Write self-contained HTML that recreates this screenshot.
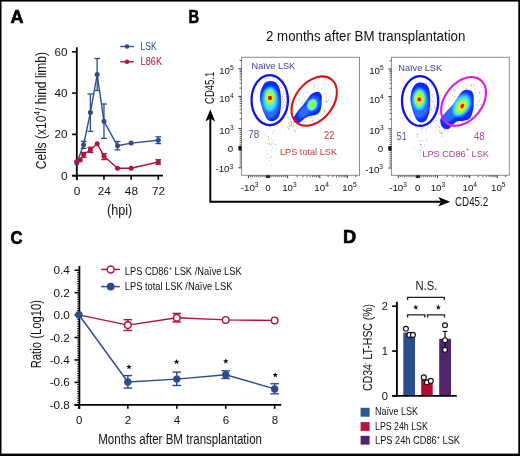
<!DOCTYPE html>
<html><head><meta charset="utf-8"><style>
html,body{margin:0;padding:0;background:#fff;}
svg{display:block;font-family:"Liberation Sans", sans-serif;will-change:transform;}
</style></head><body>
<svg width="520" height="456" viewBox="0 0 520 456">
<rect x="0" y="0" width="520" height="456" fill="#000"/>
<rect x="1.5" y="1.6" width="516.8" height="452.0" fill="#fff"/>
<text x="10.60" y="23.20" font-size="17.5" fill="#000" font-weight="bold" textLength="13.00" lengthAdjust="spacingAndGlyphs" stroke="#000" stroke-width="0.6">A</text>
<line x1="76.80" y1="47.30" x2="76.80" y2="180.20" stroke="#000" stroke-width="1.8" />
<line x1="72.10" y1="175.70" x2="163.00" y2="175.70" stroke="#000" stroke-width="1.8" />
<line x1="72.10" y1="175.70" x2="76.80" y2="175.70" stroke="#000" stroke-width="1.6" />
<text x="67.60" y="179.60" font-size="11" fill="#111" text-anchor="end" textLength="6.60" lengthAdjust="spacingAndGlyphs" >0</text>
<line x1="72.10" y1="134.40" x2="76.80" y2="134.40" stroke="#000" stroke-width="1.6" />
<text x="67.60" y="138.30" font-size="11" fill="#111" text-anchor="end" textLength="13.00" lengthAdjust="spacingAndGlyphs" >20</text>
<line x1="72.10" y1="93.10" x2="76.80" y2="93.10" stroke="#000" stroke-width="1.6" />
<text x="67.60" y="97.00" font-size="11" fill="#111" text-anchor="end" textLength="13.00" lengthAdjust="spacingAndGlyphs" >40</text>
<line x1="72.10" y1="51.80" x2="76.80" y2="51.80" stroke="#000" stroke-width="1.6" />
<text x="67.60" y="55.70" font-size="11" fill="#111" text-anchor="end" textLength="13.00" lengthAdjust="spacingAndGlyphs" >60</text>
<line x1="76.80" y1="175.70" x2="76.80" y2="179.80" stroke="#000" stroke-width="1.6" />
<text x="77.10" y="194.90" font-size="11" fill="#111" text-anchor="middle" textLength="6.60" lengthAdjust="spacingAndGlyphs" >0</text>
<line x1="103.97" y1="175.70" x2="103.97" y2="179.80" stroke="#000" stroke-width="1.6" />
<text x="104.27" y="194.90" font-size="11" fill="#111" text-anchor="middle" textLength="13.10" lengthAdjust="spacingAndGlyphs" >24</text>
<line x1="131.13" y1="175.70" x2="131.13" y2="179.80" stroke="#000" stroke-width="1.6" />
<text x="131.43" y="194.90" font-size="11" fill="#111" text-anchor="middle" textLength="13.10" lengthAdjust="spacingAndGlyphs" >48</text>
<line x1="158.30" y1="175.70" x2="158.30" y2="179.80" stroke="#000" stroke-width="1.6" />
<text x="158.60" y="194.90" font-size="11" fill="#111" text-anchor="middle" textLength="13.10" lengthAdjust="spacingAndGlyphs" >72</text>
<text x="107.00" y="214.70" font-size="14.2" fill="#111" textLength="25.30" lengthAdjust="spacingAndGlyphs" >(hpi)</text>
<text x="45.6" y="169.2" font-size="14.2" fill="#111" transform="rotate(-90 45.6 169.2)" textLength="117.3" lengthAdjust="spacingAndGlyphs">Cells (x10<tspan font-size="9.5" dy="-5.6">4</tspan><tspan dy="5.6">/ hind limb)</tspan></text>
<path d="M76.80 163.00 L83.59 144.80 L90.38 112.60 L97.17 74.50 L103.97 121.30 L117.55 145.80 L131.13 143.10 L158.30 140.20" fill="none" stroke="#2c4c8c" stroke-width="1.4" stroke-linejoin="round"/>
<line x1="83.59" y1="141.30" x2="83.59" y2="148.40" stroke="#2c4c8c" stroke-width="1.3" />
<line x1="80.69" y1="141.30" x2="86.49" y2="141.30" stroke="#2c4c8c" stroke-width="1.3" />
<line x1="80.69" y1="148.40" x2="86.49" y2="148.40" stroke="#2c4c8c" stroke-width="1.3" />
<line x1="90.38" y1="94.00" x2="90.38" y2="131.40" stroke="#2c4c8c" stroke-width="1.3" />
<line x1="87.48" y1="94.00" x2="93.28" y2="94.00" stroke="#2c4c8c" stroke-width="1.3" />
<line x1="87.48" y1="131.40" x2="93.28" y2="131.40" stroke="#2c4c8c" stroke-width="1.3" />
<line x1="97.17" y1="58.50" x2="97.17" y2="90.50" stroke="#2c4c8c" stroke-width="1.3" />
<line x1="94.27" y1="58.50" x2="100.08" y2="58.50" stroke="#2c4c8c" stroke-width="1.3" />
<line x1="94.27" y1="90.50" x2="100.08" y2="90.50" stroke="#2c4c8c" stroke-width="1.3" />
<line x1="103.97" y1="104.00" x2="103.97" y2="138.40" stroke="#2c4c8c" stroke-width="1.3" />
<line x1="101.07" y1="104.00" x2="106.87" y2="104.00" stroke="#2c4c8c" stroke-width="1.3" />
<line x1="101.07" y1="138.40" x2="106.87" y2="138.40" stroke="#2c4c8c" stroke-width="1.3" />
<line x1="117.55" y1="141.50" x2="117.55" y2="149.90" stroke="#2c4c8c" stroke-width="1.3" />
<line x1="114.65" y1="141.50" x2="120.45" y2="141.50" stroke="#2c4c8c" stroke-width="1.3" />
<line x1="114.65" y1="149.90" x2="120.45" y2="149.90" stroke="#2c4c8c" stroke-width="1.3" />
<line x1="158.30" y1="136.80" x2="158.30" y2="143.60" stroke="#2c4c8c" stroke-width="1.3" />
<line x1="155.40" y1="136.80" x2="161.20" y2="136.80" stroke="#2c4c8c" stroke-width="1.3" />
<line x1="155.40" y1="143.60" x2="161.20" y2="143.60" stroke="#2c4c8c" stroke-width="1.3" />
<circle cx="76.80" cy="163.00" r="2.5" fill="#2c4c8c"/>
<circle cx="83.59" cy="144.80" r="2.5" fill="#2c4c8c"/>
<circle cx="90.38" cy="112.60" r="2.5" fill="#2c4c8c"/>
<circle cx="97.17" cy="74.50" r="2.5" fill="#2c4c8c"/>
<circle cx="103.97" cy="121.30" r="2.5" fill="#2c4c8c"/>
<circle cx="117.55" cy="145.80" r="2.5" fill="#2c4c8c"/>
<circle cx="131.13" cy="143.10" r="2.5" fill="#2c4c8c"/>
<circle cx="158.30" cy="140.20" r="2.5" fill="#2c4c8c"/>
<path d="M76.80 161.50 L80.20 159.90 L83.59 154.50 L90.38 149.80 L97.17 143.70 L103.97 156.20 L117.55 168.20 L131.13 168.20 L158.30 162.00" fill="none" stroke="#b3123c" stroke-width="1.4" stroke-linejoin="round"/>
<line x1="83.59" y1="152.50" x2="83.59" y2="157.40" stroke="#b3123c" stroke-width="1.3" />
<line x1="80.69" y1="152.50" x2="86.49" y2="152.50" stroke="#b3123c" stroke-width="1.3" />
<line x1="80.69" y1="157.40" x2="86.49" y2="157.40" stroke="#b3123c" stroke-width="1.3" />
<line x1="90.38" y1="147.20" x2="90.38" y2="152.50" stroke="#b3123c" stroke-width="1.3" />
<line x1="87.48" y1="147.20" x2="93.28" y2="147.20" stroke="#b3123c" stroke-width="1.3" />
<line x1="87.48" y1="152.50" x2="93.28" y2="152.50" stroke="#b3123c" stroke-width="1.3" />
<line x1="103.97" y1="153.60" x2="103.97" y2="159.60" stroke="#b3123c" stroke-width="1.3" />
<line x1="101.07" y1="153.60" x2="106.87" y2="153.60" stroke="#b3123c" stroke-width="1.3" />
<line x1="101.07" y1="159.60" x2="106.87" y2="159.60" stroke="#b3123c" stroke-width="1.3" />
<line x1="158.30" y1="159.70" x2="158.30" y2="164.20" stroke="#b3123c" stroke-width="1.3" />
<line x1="155.40" y1="159.70" x2="161.20" y2="159.70" stroke="#b3123c" stroke-width="1.3" />
<line x1="155.40" y1="164.20" x2="161.20" y2="164.20" stroke="#b3123c" stroke-width="1.3" />
<circle cx="76.80" cy="161.50" r="2.5" fill="#b3123c"/>
<circle cx="80.20" cy="159.90" r="2.5" fill="#b3123c"/>
<circle cx="83.59" cy="154.50" r="2.5" fill="#b3123c"/>
<circle cx="90.38" cy="149.80" r="2.5" fill="#b3123c"/>
<circle cx="97.17" cy="143.70" r="2.5" fill="#b3123c"/>
<circle cx="103.97" cy="156.20" r="2.5" fill="#b3123c"/>
<circle cx="117.55" cy="168.20" r="2.5" fill="#b3123c"/>
<circle cx="131.13" cy="168.20" r="2.5" fill="#b3123c"/>
<circle cx="158.30" cy="162.00" r="2.5" fill="#b3123c"/>
<line x1="120.20" y1="46.50" x2="133.70" y2="46.50" stroke="#2c4c8c" stroke-width="1.4" />
<circle cx="127" cy="46.5" r="2.25" fill="#2c4c8c"/>
<line x1="120.20" y1="61.80" x2="133.70" y2="61.80" stroke="#b3123c" stroke-width="1.4" />
<circle cx="127" cy="61.8" r="2.25" fill="#b3123c"/>
<text x="140.60" y="49.80" font-size="10" fill="#2c4c8c" textLength="16.20" lengthAdjust="spacingAndGlyphs" >LSK</text>
<text x="140.60" y="64.80" font-size="10" fill="#b3123c" textLength="21.40" lengthAdjust="spacingAndGlyphs" >L86K</text>
<text x="188.60" y="23.20" font-size="17.5" fill="#000" font-weight="bold" textLength="10.60" lengthAdjust="spacingAndGlyphs" stroke="#000" stroke-width="0.6">B</text>
<text x="266.00" y="40.70" font-size="13.8" fill="#111" textLength="199.40" lengthAdjust="spacingAndGlyphs" >2 months after BM transplantation</text>
<rect x="241.50" y="57.30" width="118.00" height="118.00" fill="none" stroke="#8c8c8c" stroke-width="1"/>
<line x1="269.96" y1="175.30" x2="269.96" y2="177.20" stroke="#333" stroke-width="0.8" />
<line x1="241.50" y1="146.24" x2="239.60" y2="146.24" stroke="#333" stroke-width="0.8" />
<line x1="266.04" y1="175.30" x2="266.04" y2="177.20" stroke="#333" stroke-width="0.8" />
<line x1="241.50" y1="150.16" x2="239.60" y2="150.16" stroke="#333" stroke-width="0.8" />
<line x1="271.92" y1="175.30" x2="271.92" y2="177.20" stroke="#333" stroke-width="0.8" />
<line x1="241.50" y1="144.28" x2="239.60" y2="144.28" stroke="#333" stroke-width="0.8" />
<line x1="264.08" y1="175.30" x2="264.08" y2="177.20" stroke="#333" stroke-width="0.8" />
<line x1="241.50" y1="152.12" x2="239.60" y2="152.12" stroke="#333" stroke-width="0.8" />
<line x1="273.88" y1="175.30" x2="273.88" y2="177.20" stroke="#333" stroke-width="0.8" />
<line x1="241.50" y1="142.32" x2="239.60" y2="142.32" stroke="#333" stroke-width="0.8" />
<line x1="262.12" y1="175.30" x2="262.12" y2="177.20" stroke="#333" stroke-width="0.8" />
<line x1="241.50" y1="154.08" x2="239.60" y2="154.08" stroke="#333" stroke-width="0.8" />
<line x1="275.84" y1="175.30" x2="275.84" y2="177.20" stroke="#333" stroke-width="0.8" />
<line x1="241.50" y1="140.36" x2="239.60" y2="140.36" stroke="#333" stroke-width="0.8" />
<line x1="260.16" y1="175.30" x2="260.16" y2="177.20" stroke="#333" stroke-width="0.8" />
<line x1="241.50" y1="156.04" x2="239.60" y2="156.04" stroke="#333" stroke-width="0.8" />
<line x1="277.80" y1="175.30" x2="277.80" y2="177.20" stroke="#333" stroke-width="0.8" />
<line x1="241.50" y1="138.40" x2="239.60" y2="138.40" stroke="#333" stroke-width="0.8" />
<line x1="258.20" y1="175.30" x2="258.20" y2="177.20" stroke="#333" stroke-width="0.8" />
<line x1="241.50" y1="158.00" x2="239.60" y2="158.00" stroke="#333" stroke-width="0.8" />
<line x1="279.76" y1="175.30" x2="279.76" y2="177.20" stroke="#333" stroke-width="0.8" />
<line x1="241.50" y1="136.44" x2="239.60" y2="136.44" stroke="#333" stroke-width="0.8" />
<line x1="256.24" y1="175.30" x2="256.24" y2="177.20" stroke="#333" stroke-width="0.8" />
<line x1="241.50" y1="159.96" x2="239.60" y2="159.96" stroke="#333" stroke-width="0.8" />
<line x1="281.72" y1="175.30" x2="281.72" y2="177.20" stroke="#333" stroke-width="0.8" />
<line x1="241.50" y1="134.48" x2="239.60" y2="134.48" stroke="#333" stroke-width="0.8" />
<line x1="254.28" y1="175.30" x2="254.28" y2="177.20" stroke="#333" stroke-width="0.8" />
<line x1="241.50" y1="161.92" x2="239.60" y2="161.92" stroke="#333" stroke-width="0.8" />
<line x1="283.68" y1="175.30" x2="283.68" y2="177.20" stroke="#333" stroke-width="0.8" />
<line x1="241.50" y1="132.52" x2="239.60" y2="132.52" stroke="#333" stroke-width="0.8" />
<line x1="252.32" y1="175.30" x2="252.32" y2="177.20" stroke="#333" stroke-width="0.8" />
<line x1="241.50" y1="163.88" x2="239.60" y2="163.88" stroke="#333" stroke-width="0.8" />
<line x1="285.64" y1="175.30" x2="285.64" y2="177.20" stroke="#333" stroke-width="0.8" />
<line x1="241.50" y1="130.56" x2="239.60" y2="130.56" stroke="#333" stroke-width="0.8" />
<line x1="250.36" y1="175.30" x2="250.36" y2="177.20" stroke="#333" stroke-width="0.8" />
<line x1="241.50" y1="165.84" x2="239.60" y2="165.84" stroke="#333" stroke-width="0.8" />
<line x1="297.29" y1="175.30" x2="297.29" y2="177.20" stroke="#333" stroke-width="0.8" />
<line x1="241.50" y1="118.91" x2="239.60" y2="118.91" stroke="#333" stroke-width="0.8" />
<line x1="302.96" y1="175.30" x2="302.96" y2="177.20" stroke="#333" stroke-width="0.8" />
<line x1="241.50" y1="113.24" x2="239.60" y2="113.24" stroke="#333" stroke-width="0.8" />
<line x1="306.99" y1="175.30" x2="306.99" y2="177.20" stroke="#333" stroke-width="0.8" />
<line x1="241.50" y1="109.21" x2="239.60" y2="109.21" stroke="#333" stroke-width="0.8" />
<line x1="310.11" y1="175.30" x2="310.11" y2="177.20" stroke="#333" stroke-width="0.8" />
<line x1="241.50" y1="106.09" x2="239.60" y2="106.09" stroke="#333" stroke-width="0.8" />
<line x1="312.66" y1="175.30" x2="312.66" y2="177.20" stroke="#333" stroke-width="0.8" />
<line x1="241.50" y1="103.54" x2="239.60" y2="103.54" stroke="#333" stroke-width="0.8" />
<line x1="314.81" y1="175.30" x2="314.81" y2="177.20" stroke="#333" stroke-width="0.8" />
<line x1="241.50" y1="101.39" x2="239.60" y2="101.39" stroke="#333" stroke-width="0.8" />
<line x1="316.68" y1="175.30" x2="316.68" y2="177.20" stroke="#333" stroke-width="0.8" />
<line x1="241.50" y1="99.52" x2="239.60" y2="99.52" stroke="#333" stroke-width="0.8" />
<line x1="318.33" y1="175.30" x2="318.33" y2="177.20" stroke="#333" stroke-width="0.8" />
<line x1="241.50" y1="97.87" x2="239.60" y2="97.87" stroke="#333" stroke-width="0.8" />
<line x1="328.11" y1="175.30" x2="328.11" y2="177.20" stroke="#333" stroke-width="0.8" />
<line x1="241.50" y1="88.09" x2="239.60" y2="88.09" stroke="#333" stroke-width="0.8" />
<line x1="332.97" y1="175.30" x2="332.97" y2="177.20" stroke="#333" stroke-width="0.8" />
<line x1="241.50" y1="83.23" x2="239.60" y2="83.23" stroke="#333" stroke-width="0.8" />
<line x1="336.42" y1="175.30" x2="336.42" y2="177.20" stroke="#333" stroke-width="0.8" />
<line x1="241.50" y1="79.78" x2="239.60" y2="79.78" stroke="#333" stroke-width="0.8" />
<line x1="339.09" y1="175.30" x2="339.09" y2="177.20" stroke="#333" stroke-width="0.8" />
<line x1="241.50" y1="77.11" x2="239.60" y2="77.11" stroke="#333" stroke-width="0.8" />
<line x1="341.28" y1="175.30" x2="341.28" y2="177.20" stroke="#333" stroke-width="0.8" />
<line x1="241.50" y1="74.92" x2="239.60" y2="74.92" stroke="#333" stroke-width="0.8" />
<line x1="343.12" y1="175.30" x2="343.12" y2="177.20" stroke="#333" stroke-width="0.8" />
<line x1="241.50" y1="73.08" x2="239.60" y2="73.08" stroke="#333" stroke-width="0.8" />
<line x1="344.73" y1="175.30" x2="344.73" y2="177.20" stroke="#333" stroke-width="0.8" />
<line x1="241.50" y1="71.47" x2="239.60" y2="71.47" stroke="#333" stroke-width="0.8" />
<line x1="346.14" y1="175.30" x2="346.14" y2="177.20" stroke="#333" stroke-width="0.8" />
<line x1="241.50" y1="70.06" x2="239.60" y2="70.06" stroke="#333" stroke-width="0.8" />
<line x1="355.71" y1="175.30" x2="355.71" y2="177.20" stroke="#333" stroke-width="0.8" />
<line x1="241.50" y1="60.49" x2="239.60" y2="60.49" stroke="#333" stroke-width="0.8" />
<line x1="248.40" y1="175.30" x2="248.40" y2="178.20" stroke="#333" stroke-width="1.0" />
<line x1="241.50" y1="167.80" x2="238.40" y2="167.80" stroke="#333" stroke-width="1.0" />
<line x1="268.00" y1="175.30" x2="268.00" y2="178.20" stroke="#333" stroke-width="1.0" />
<line x1="241.50" y1="148.20" x2="238.40" y2="148.20" stroke="#333" stroke-width="1.0" />
<line x1="287.60" y1="175.30" x2="287.60" y2="178.20" stroke="#333" stroke-width="1.0" />
<line x1="241.50" y1="128.60" x2="238.40" y2="128.60" stroke="#333" stroke-width="1.0" />
<line x1="319.80" y1="175.30" x2="319.80" y2="178.20" stroke="#333" stroke-width="1.0" />
<line x1="241.50" y1="96.40" x2="238.40" y2="96.40" stroke="#333" stroke-width="1.0" />
<line x1="347.40" y1="175.30" x2="347.40" y2="178.20" stroke="#333" stroke-width="1.0" />
<line x1="241.50" y1="68.80" x2="238.40" y2="68.80" stroke="#333" stroke-width="1.0" />
<rect x="265.90" y="175.30" width="4.2" height="2.7" fill="#111" opacity="0.85"/>
<rect x="238.50" y="145.90" width="3.0" height="4.6" fill="#111"/>
<text x="249.70" y="191.20" font-size="9.7" fill="#111" text-anchor="middle">-10<tspan font-size="6.6" dy="-3.9">3</tspan></text>
<text x="268.00" y="191.20" font-size="9.7" fill="#111" text-anchor="middle">0</text>
<text x="289.40" y="191.20" font-size="9.7" fill="#111" text-anchor="middle">10<tspan font-size="6.6" dy="-3.9">3</tspan></text>
<text x="321.60" y="191.20" font-size="9.7" fill="#111" text-anchor="middle">10<tspan font-size="6.6" dy="-3.9">4</tspan></text>
<text x="349.40" y="191.20" font-size="9.7" fill="#111" text-anchor="middle">10<tspan font-size="6.6" dy="-3.9">5</tspan></text>
<text x="233.70" y="74.00" font-size="9.7" fill="#111" text-anchor="end">10<tspan font-size="6.6" dy="-3.9">5</tspan></text>
<text x="233.70" y="102.30" font-size="9.7" fill="#111" text-anchor="end">10<tspan font-size="6.6" dy="-3.9">4</tspan></text>
<text x="233.70" y="133.60" font-size="9.7" fill="#111" text-anchor="end">10<tspan font-size="6.6" dy="-3.9">3</tspan></text>
<text x="233.20" y="151.60" font-size="9.7" fill="#111" text-anchor="end">0</text>
<text x="233.10" y="172.40" font-size="9.7" fill="#111" text-anchor="end">-10<tspan font-size="6.6" dy="-3.9">3</tspan></text>
<rect x="391.40" y="57.30" width="117.90" height="118.00" fill="none" stroke="#8c8c8c" stroke-width="1"/>
<line x1="419.86" y1="175.30" x2="419.86" y2="177.20" stroke="#333" stroke-width="0.8" />
<line x1="391.40" y1="146.44" x2="389.50" y2="146.44" stroke="#333" stroke-width="0.8" />
<line x1="415.94" y1="175.30" x2="415.94" y2="177.20" stroke="#333" stroke-width="0.8" />
<line x1="391.40" y1="150.36" x2="389.50" y2="150.36" stroke="#333" stroke-width="0.8" />
<line x1="421.82" y1="175.30" x2="421.82" y2="177.20" stroke="#333" stroke-width="0.8" />
<line x1="391.40" y1="144.48" x2="389.50" y2="144.48" stroke="#333" stroke-width="0.8" />
<line x1="413.98" y1="175.30" x2="413.98" y2="177.20" stroke="#333" stroke-width="0.8" />
<line x1="391.40" y1="152.32" x2="389.50" y2="152.32" stroke="#333" stroke-width="0.8" />
<line x1="423.78" y1="175.30" x2="423.78" y2="177.20" stroke="#333" stroke-width="0.8" />
<line x1="391.40" y1="142.52" x2="389.50" y2="142.52" stroke="#333" stroke-width="0.8" />
<line x1="412.02" y1="175.30" x2="412.02" y2="177.20" stroke="#333" stroke-width="0.8" />
<line x1="391.40" y1="154.28" x2="389.50" y2="154.28" stroke="#333" stroke-width="0.8" />
<line x1="425.74" y1="175.30" x2="425.74" y2="177.20" stroke="#333" stroke-width="0.8" />
<line x1="391.40" y1="140.56" x2="389.50" y2="140.56" stroke="#333" stroke-width="0.8" />
<line x1="410.06" y1="175.30" x2="410.06" y2="177.20" stroke="#333" stroke-width="0.8" />
<line x1="391.40" y1="156.24" x2="389.50" y2="156.24" stroke="#333" stroke-width="0.8" />
<line x1="427.70" y1="175.30" x2="427.70" y2="177.20" stroke="#333" stroke-width="0.8" />
<line x1="391.40" y1="138.60" x2="389.50" y2="138.60" stroke="#333" stroke-width="0.8" />
<line x1="408.10" y1="175.30" x2="408.10" y2="177.20" stroke="#333" stroke-width="0.8" />
<line x1="391.40" y1="158.20" x2="389.50" y2="158.20" stroke="#333" stroke-width="0.8" />
<line x1="429.66" y1="175.30" x2="429.66" y2="177.20" stroke="#333" stroke-width="0.8" />
<line x1="391.40" y1="136.64" x2="389.50" y2="136.64" stroke="#333" stroke-width="0.8" />
<line x1="406.14" y1="175.30" x2="406.14" y2="177.20" stroke="#333" stroke-width="0.8" />
<line x1="391.40" y1="160.16" x2="389.50" y2="160.16" stroke="#333" stroke-width="0.8" />
<line x1="431.62" y1="175.30" x2="431.62" y2="177.20" stroke="#333" stroke-width="0.8" />
<line x1="391.40" y1="134.68" x2="389.50" y2="134.68" stroke="#333" stroke-width="0.8" />
<line x1="404.18" y1="175.30" x2="404.18" y2="177.20" stroke="#333" stroke-width="0.8" />
<line x1="391.40" y1="162.12" x2="389.50" y2="162.12" stroke="#333" stroke-width="0.8" />
<line x1="433.58" y1="175.30" x2="433.58" y2="177.20" stroke="#333" stroke-width="0.8" />
<line x1="391.40" y1="132.72" x2="389.50" y2="132.72" stroke="#333" stroke-width="0.8" />
<line x1="402.22" y1="175.30" x2="402.22" y2="177.20" stroke="#333" stroke-width="0.8" />
<line x1="391.40" y1="164.08" x2="389.50" y2="164.08" stroke="#333" stroke-width="0.8" />
<line x1="435.54" y1="175.30" x2="435.54" y2="177.20" stroke="#333" stroke-width="0.8" />
<line x1="391.40" y1="130.76" x2="389.50" y2="130.76" stroke="#333" stroke-width="0.8" />
<line x1="400.26" y1="175.30" x2="400.26" y2="177.20" stroke="#333" stroke-width="0.8" />
<line x1="391.40" y1="166.04" x2="389.50" y2="166.04" stroke="#333" stroke-width="0.8" />
<line x1="447.19" y1="175.30" x2="447.19" y2="177.20" stroke="#333" stroke-width="0.8" />
<line x1="391.40" y1="119.11" x2="389.50" y2="119.11" stroke="#333" stroke-width="0.8" />
<line x1="452.86" y1="175.30" x2="452.86" y2="177.20" stroke="#333" stroke-width="0.8" />
<line x1="391.40" y1="113.44" x2="389.50" y2="113.44" stroke="#333" stroke-width="0.8" />
<line x1="456.89" y1="175.30" x2="456.89" y2="177.20" stroke="#333" stroke-width="0.8" />
<line x1="391.40" y1="109.41" x2="389.50" y2="109.41" stroke="#333" stroke-width="0.8" />
<line x1="460.01" y1="175.30" x2="460.01" y2="177.20" stroke="#333" stroke-width="0.8" />
<line x1="391.40" y1="106.29" x2="389.50" y2="106.29" stroke="#333" stroke-width="0.8" />
<line x1="462.56" y1="175.30" x2="462.56" y2="177.20" stroke="#333" stroke-width="0.8" />
<line x1="391.40" y1="103.74" x2="389.50" y2="103.74" stroke="#333" stroke-width="0.8" />
<line x1="464.71" y1="175.30" x2="464.71" y2="177.20" stroke="#333" stroke-width="0.8" />
<line x1="391.40" y1="101.59" x2="389.50" y2="101.59" stroke="#333" stroke-width="0.8" />
<line x1="466.58" y1="175.30" x2="466.58" y2="177.20" stroke="#333" stroke-width="0.8" />
<line x1="391.40" y1="99.72" x2="389.50" y2="99.72" stroke="#333" stroke-width="0.8" />
<line x1="468.23" y1="175.30" x2="468.23" y2="177.20" stroke="#333" stroke-width="0.8" />
<line x1="391.40" y1="98.07" x2="389.50" y2="98.07" stroke="#333" stroke-width="0.8" />
<line x1="478.01" y1="175.30" x2="478.01" y2="177.20" stroke="#333" stroke-width="0.8" />
<line x1="391.40" y1="88.29" x2="389.50" y2="88.29" stroke="#333" stroke-width="0.8" />
<line x1="482.87" y1="175.30" x2="482.87" y2="177.20" stroke="#333" stroke-width="0.8" />
<line x1="391.40" y1="83.43" x2="389.50" y2="83.43" stroke="#333" stroke-width="0.8" />
<line x1="486.32" y1="175.30" x2="486.32" y2="177.20" stroke="#333" stroke-width="0.8" />
<line x1="391.40" y1="79.98" x2="389.50" y2="79.98" stroke="#333" stroke-width="0.8" />
<line x1="488.99" y1="175.30" x2="488.99" y2="177.20" stroke="#333" stroke-width="0.8" />
<line x1="391.40" y1="77.31" x2="389.50" y2="77.31" stroke="#333" stroke-width="0.8" />
<line x1="491.18" y1="175.30" x2="491.18" y2="177.20" stroke="#333" stroke-width="0.8" />
<line x1="391.40" y1="75.12" x2="389.50" y2="75.12" stroke="#333" stroke-width="0.8" />
<line x1="493.02" y1="175.30" x2="493.02" y2="177.20" stroke="#333" stroke-width="0.8" />
<line x1="391.40" y1="73.28" x2="389.50" y2="73.28" stroke="#333" stroke-width="0.8" />
<line x1="494.63" y1="175.30" x2="494.63" y2="177.20" stroke="#333" stroke-width="0.8" />
<line x1="391.40" y1="71.67" x2="389.50" y2="71.67" stroke="#333" stroke-width="0.8" />
<line x1="496.04" y1="175.30" x2="496.04" y2="177.20" stroke="#333" stroke-width="0.8" />
<line x1="391.40" y1="70.26" x2="389.50" y2="70.26" stroke="#333" stroke-width="0.8" />
<line x1="505.61" y1="175.30" x2="505.61" y2="177.20" stroke="#333" stroke-width="0.8" />
<line x1="391.40" y1="60.69" x2="389.50" y2="60.69" stroke="#333" stroke-width="0.8" />
<line x1="398.30" y1="175.30" x2="398.30" y2="178.20" stroke="#333" stroke-width="1.0" />
<line x1="391.40" y1="168.00" x2="388.30" y2="168.00" stroke="#333" stroke-width="1.0" />
<line x1="417.90" y1="175.30" x2="417.90" y2="178.20" stroke="#333" stroke-width="1.0" />
<line x1="391.40" y1="148.40" x2="388.30" y2="148.40" stroke="#333" stroke-width="1.0" />
<line x1="437.50" y1="175.30" x2="437.50" y2="178.20" stroke="#333" stroke-width="1.0" />
<line x1="391.40" y1="128.80" x2="388.30" y2="128.80" stroke="#333" stroke-width="1.0" />
<line x1="469.70" y1="175.30" x2="469.70" y2="178.20" stroke="#333" stroke-width="1.0" />
<line x1="391.40" y1="96.60" x2="388.30" y2="96.60" stroke="#333" stroke-width="1.0" />
<line x1="497.30" y1="175.30" x2="497.30" y2="178.20" stroke="#333" stroke-width="1.0" />
<line x1="391.40" y1="69.00" x2="388.30" y2="69.00" stroke="#333" stroke-width="1.0" />
<rect x="415.80" y="175.30" width="4.2" height="2.7" fill="#111" opacity="0.85"/>
<rect x="388.40" y="146.10" width="3.0" height="4.6" fill="#111"/>
<text x="398.10" y="191.20" font-size="9.7" fill="#111" text-anchor="middle">-10<tspan font-size="6.6" dy="-3.9">3</tspan></text>
<text x="417.80" y="191.20" font-size="9.7" fill="#111" text-anchor="middle">0</text>
<text x="437.90" y="191.20" font-size="9.7" fill="#111" text-anchor="middle">10<tspan font-size="6.6" dy="-3.9">3</tspan></text>
<text x="469.80" y="191.20" font-size="9.7" fill="#111" text-anchor="middle">10<tspan font-size="6.6" dy="-3.9">4</tspan></text>
<text x="498.30" y="191.20" font-size="9.7" fill="#111" text-anchor="middle">10<tspan font-size="6.6" dy="-3.9">5</tspan></text>
<text x="383.60" y="74.20" font-size="9.7" fill="#111" text-anchor="end">10<tspan font-size="6.6" dy="-3.9">5</tspan></text>
<text x="383.60" y="102.50" font-size="9.7" fill="#111" text-anchor="end">10<tspan font-size="6.6" dy="-3.9">4</tspan></text>
<text x="383.60" y="133.80" font-size="9.7" fill="#111" text-anchor="end">10<tspan font-size="6.6" dy="-3.9">3</tspan></text>
<text x="383.10" y="151.80" font-size="9.7" fill="#111" text-anchor="end">0</text>
<text x="383.00" y="172.60" font-size="9.7" fill="#111" text-anchor="end">-10<tspan font-size="6.6" dy="-3.9">3</tspan></text>
<path d="M210.3 114 L210.3 201.75 L445 201.75" fill="none" stroke="#000" stroke-width="1.9" stroke-linejoin="miter"/>
<path d="M210.3 109.2 L215.1 121.6 L210.3 118.6 L205.5 121.6 Z" fill="#000"/>
<path d="M450.2 201.75 L438.2 196.9 L441.2 201.75 L438.2 206.6 Z" fill="#000"/>
<text x="455.00" y="206.00" font-size="13.5" fill="#111" textLength="33.20" lengthAdjust="spacingAndGlyphs" >CD45.2</text>
<text x="214.4" y="104.0" font-size="13.5" fill="#111" transform="rotate(-90 214.4 104.0)" textLength="32.4" lengthAdjust="spacingAndGlyphs">CD45.1</text>
<defs><filter id="blA" x="-50%" y="-50%" width="200%" height="200%"><feGaussianBlur stdDeviation="1.3"/></filter><filter id="blB" x="-50%" y="-50%" width="200%" height="200%"><feGaussianBlur stdDeviation="0.5"/></filter></defs>
<circle cx="279.9" cy="104.2" r="0.45" fill="#7a7a7a"/>
<circle cx="285.5" cy="94.4" r="0.45" fill="#7a7a7a"/>
<circle cx="279.7" cy="99.3" r="0.45" fill="#7a7a7a"/>
<circle cx="284.2" cy="112.1" r="0.45" fill="#7a7a7a"/>
<circle cx="280.0" cy="85.8" r="0.45" fill="#7a7a7a"/>
<circle cx="284.8" cy="105.2" r="0.45" fill="#7a7a7a"/>
<circle cx="286.8" cy="110.8" r="0.45" fill="#7a7a7a"/>
<circle cx="282.7" cy="97.0" r="0.45" fill="#7a7a7a"/>
<circle cx="289.4" cy="96.8" r="0.45" fill="#7a7a7a"/>
<circle cx="281.0" cy="87.5" r="0.45" fill="#7a7a7a"/>
<circle cx="283.2" cy="101.6" r="0.45" fill="#7a7a7a"/>
<circle cx="282.1" cy="99.3" r="0.45" fill="#7a7a7a"/>
<circle cx="283.7" cy="107.6" r="0.45" fill="#7a7a7a"/>
<circle cx="285.7" cy="102.3" r="0.45" fill="#7a7a7a"/>
<circle cx="278.5" cy="107.7" r="0.45" fill="#7a7a7a"/>
<circle cx="279.5" cy="98.1" r="0.45" fill="#7a7a7a"/>
<circle cx="279.3" cy="100.0" r="0.45" fill="#7a7a7a"/>
<circle cx="281.1" cy="102.4" r="0.45" fill="#7a7a7a"/>
<circle cx="291.3" cy="99.5" r="0.45" fill="#7a7a7a"/>
<circle cx="285.1" cy="85.4" r="0.45" fill="#7a7a7a"/>
<circle cx="282.3" cy="107.3" r="0.45" fill="#7a7a7a"/>
<circle cx="282.8" cy="104.1" r="0.45" fill="#7a7a7a"/>
<circle cx="283.3" cy="88.9" r="0.45" fill="#7a7a7a"/>
<circle cx="284.4" cy="91.1" r="0.45" fill="#7a7a7a"/>
<circle cx="287.7" cy="94.4" r="0.45" fill="#7a7a7a"/>
<circle cx="284.7" cy="100.0" r="0.45" fill="#7a7a7a"/>
<circle cx="285.4" cy="93.4" r="0.45" fill="#7a7a7a"/>
<circle cx="285.5" cy="98.6" r="0.45" fill="#7a7a7a"/>
<circle cx="286.2" cy="106.9" r="0.45" fill="#7a7a7a"/>
<circle cx="283.4" cy="91.4" r="0.45" fill="#7a7a7a"/>
<circle cx="284.9" cy="105.1" r="0.45" fill="#7a7a7a"/>
<circle cx="287.1" cy="95.9" r="0.45" fill="#7a7a7a"/>
<circle cx="284.4" cy="105.6" r="0.45" fill="#7a7a7a"/>
<circle cx="283.7" cy="102.3" r="0.45" fill="#7a7a7a"/>
<circle cx="283.5" cy="93.4" r="0.45" fill="#7a7a7a"/>
<circle cx="288.0" cy="117.0" r="0.45" fill="#7a7a7a"/>
<circle cx="292.8" cy="126.6" r="0.45" fill="#7a7a7a"/>
<circle cx="293.9" cy="124.3" r="0.45" fill="#7a7a7a"/>
<circle cx="293.3" cy="122.5" r="0.45" fill="#7a7a7a"/>
<circle cx="291.6" cy="122.9" r="0.45" fill="#7a7a7a"/>
<circle cx="296.3" cy="117.4" r="0.45" fill="#7a7a7a"/>
<circle cx="288.9" cy="128.8" r="0.45" fill="#7a7a7a"/>
<circle cx="291.7" cy="123.9" r="0.45" fill="#7a7a7a"/>
<circle cx="293.6" cy="113.3" r="0.45" fill="#7a7a7a"/>
<circle cx="298.3" cy="127.9" r="0.45" fill="#7a7a7a"/>
<circle cx="291.5" cy="122.8" r="0.45" fill="#7a7a7a"/>
<circle cx="291.4" cy="114.6" r="0.45" fill="#7a7a7a"/>
<circle cx="290.7" cy="120.9" r="0.45" fill="#7a7a7a"/>
<circle cx="294.3" cy="122.5" r="0.45" fill="#7a7a7a"/>
<circle cx="291.2" cy="125.8" r="0.45" fill="#7a7a7a"/>
<circle cx="288.7" cy="123.0" r="0.45" fill="#7a7a7a"/>
<circle cx="294.3" cy="117.5" r="0.45" fill="#7a7a7a"/>
<circle cx="285.6" cy="114.5" r="0.45" fill="#7a7a7a"/>
<circle cx="291.7" cy="121.6" r="0.45" fill="#7a7a7a"/>
<circle cx="295.6" cy="114.0" r="0.45" fill="#7a7a7a"/>
<circle cx="291.0" cy="122.2" r="0.45" fill="#7a7a7a"/>
<circle cx="290.5" cy="107.2" r="0.45" fill="#7a7a7a"/>
<circle cx="272.0" cy="165.1" r="0.45" fill="#7a7a7a"/>
<circle cx="272.5" cy="132.8" r="0.45" fill="#7a7a7a"/>
<circle cx="269.0" cy="144.2" r="0.45" fill="#7a7a7a"/>
<circle cx="276.2" cy="148.2" r="0.45" fill="#7a7a7a"/>
<circle cx="270.3" cy="157.6" r="0.45" fill="#7a7a7a"/>
<circle cx="269.8" cy="160.6" r="0.45" fill="#7a7a7a"/>
<circle cx="268.3" cy="137.3" r="0.45" fill="#7a7a7a"/>
<circle cx="271.8" cy="156.2" r="0.45" fill="#7a7a7a"/>
<circle cx="271.6" cy="145.0" r="0.45" fill="#7a7a7a"/>
<circle cx="265.4" cy="134.9" r="0.45" fill="#7a7a7a"/>
<circle cx="268.5" cy="136.7" r="0.45" fill="#7a7a7a"/>
<circle cx="271.5" cy="138.6" r="0.45" fill="#7a7a7a"/>
<circle cx="272.0" cy="142.8" r="0.45" fill="#7a7a7a"/>
<circle cx="269.2" cy="143.2" r="0.45" fill="#7a7a7a"/>
<circle cx="271.1" cy="150.6" r="0.45" fill="#7a7a7a"/>
<circle cx="268.8" cy="139.7" r="0.45" fill="#7a7a7a"/>
<circle cx="266.6" cy="158.0" r="0.45" fill="#7a7a7a"/>
<circle cx="273.6" cy="140.2" r="0.45" fill="#7a7a7a"/>
<circle cx="268.8" cy="129.6" r="0.45" fill="#7a7a7a"/>
<circle cx="270.4" cy="144.1" r="0.45" fill="#7a7a7a"/>
<circle cx="275.5" cy="144.5" r="0.45" fill="#7a7a7a"/>
<circle cx="268.1" cy="117.6" r="0.45" fill="#7a7a7a"/>
<circle cx="273.5" cy="143.9" r="0.45" fill="#7a7a7a"/>
<circle cx="266.0" cy="143.8" r="0.45" fill="#7a7a7a"/>
<circle cx="266.0" cy="176.8" r="0.45" fill="#7a7a7a"/>
<circle cx="272.8" cy="147.7" r="0.45" fill="#7a7a7a"/>
<circle cx="269.6" cy="120.6" r="0.45" fill="#7a7a7a"/>
<circle cx="269.7" cy="126.5" r="0.45" fill="#7a7a7a"/>
<circle cx="271.5" cy="120.6" r="0.45" fill="#7a7a7a"/>
<circle cx="267.7" cy="154.2" r="0.45" fill="#7a7a7a"/>
<circle cx="274.1" cy="130.2" r="0.45" fill="#7a7a7a"/>
<circle cx="266.2" cy="150.8" r="0.45" fill="#7a7a7a"/>
<circle cx="293.6" cy="126.0" r="0.45" fill="#7a7a7a"/>
<circle cx="288.9" cy="126.9" r="0.45" fill="#7a7a7a"/>
<circle cx="287.4" cy="127.0" r="0.45" fill="#7a7a7a"/>
<circle cx="294.8" cy="131.1" r="0.45" fill="#7a7a7a"/>
<circle cx="297.2" cy="128.7" r="0.45" fill="#7a7a7a"/>
<circle cx="290.6" cy="126.1" r="0.45" fill="#7a7a7a"/>
<circle cx="290.6" cy="125.1" r="0.45" fill="#7a7a7a"/>
<circle cx="285.7" cy="131.1" r="0.45" fill="#7a7a7a"/>
<circle cx="295.3" cy="131.5" r="0.45" fill="#7a7a7a"/>
<circle cx="295.0" cy="129.8" r="0.45" fill="#7a7a7a"/>
<circle cx="288.8" cy="129.3" r="0.45" fill="#7a7a7a"/>
<circle cx="289.9" cy="125.7" r="0.45" fill="#7a7a7a"/>
<circle cx="299.8" cy="88.6" r="0.45" fill="#7a7a7a"/>
<circle cx="304.0" cy="96.8" r="0.45" fill="#7a7a7a"/>
<circle cx="302.8" cy="103.1" r="0.45" fill="#7a7a7a"/>
<circle cx="304.4" cy="98.9" r="0.45" fill="#7a7a7a"/>
<circle cx="307.0" cy="91.9" r="0.45" fill="#7a7a7a"/>
<circle cx="299.1" cy="99.8" r="0.45" fill="#7a7a7a"/>
<circle cx="302.3" cy="102.6" r="0.45" fill="#7a7a7a"/>
<circle cx="304.8" cy="101.0" r="0.45" fill="#7a7a7a"/>
<circle cx="305.9" cy="85.6" r="0.45" fill="#7a7a7a"/>
<circle cx="305.8" cy="92.6" r="0.45" fill="#7a7a7a"/>
<circle cx="314.2" cy="86.1" r="0.45" fill="#7a7a7a"/>
<circle cx="321.8" cy="88.8" r="0.45" fill="#7a7a7a"/>
<circle cx="323.1" cy="83.7" r="0.45" fill="#7a7a7a"/>
<circle cx="315.0" cy="82.2" r="0.45" fill="#7a7a7a"/>
<circle cx="317.5" cy="88.2" r="0.45" fill="#7a7a7a"/>
<circle cx="314.2" cy="87.5" r="0.45" fill="#7a7a7a"/>
<circle cx="319.2" cy="89.0" r="0.45" fill="#7a7a7a"/>
<circle cx="313.9" cy="85.3" r="0.45" fill="#7a7a7a"/>
<circle cx="324.5" cy="111.5" r="0.45" fill="#7a7a7a"/>
<circle cx="328.2" cy="100.3" r="0.45" fill="#7a7a7a"/>
<circle cx="326.5" cy="101.7" r="0.45" fill="#7a7a7a"/>
<circle cx="326.4" cy="99.7" r="0.45" fill="#7a7a7a"/>
<circle cx="325.3" cy="93.5" r="0.45" fill="#7a7a7a"/>
<circle cx="324.7" cy="110.9" r="0.45" fill="#7a7a7a"/>
<circle cx="327.1" cy="101.4" r="0.45" fill="#7a7a7a"/>
<circle cx="325.6" cy="101.4" r="0.45" fill="#7a7a7a"/>
<circle cx="326.7" cy="97.1" r="0.45" fill="#7a7a7a"/>
<circle cx="326.4" cy="102.4" r="0.45" fill="#7a7a7a"/>
<circle cx="309.3" cy="117.4" r="0.45" fill="#7a7a7a"/>
<circle cx="308.0" cy="116.9" r="0.45" fill="#7a7a7a"/>
<circle cx="317.4" cy="114.3" r="0.45" fill="#7a7a7a"/>
<circle cx="311.7" cy="117.8" r="0.45" fill="#7a7a7a"/>
<circle cx="309.9" cy="119.2" r="0.45" fill="#7a7a7a"/>
<circle cx="318.6" cy="119.2" r="0.45" fill="#7a7a7a"/>
<circle cx="312.3" cy="117.8" r="0.45" fill="#7a7a7a"/>
<circle cx="312.4" cy="120.8" r="0.45" fill="#7a7a7a"/>
<circle cx="311.0" cy="116.7" r="0.45" fill="#7a7a7a"/>
<circle cx="306.7" cy="116.8" r="0.45" fill="#7a7a7a"/>
<circle cx="306.1" cy="121.2" r="0.45" fill="#7a7a7a"/>
<circle cx="314.8" cy="118.5" r="0.45" fill="#7a7a7a"/>
<circle cx="283.8" cy="81.0" r="0.45" fill="#7a7a7a"/>
<circle cx="279.5" cy="85.4" r="0.45" fill="#7a7a7a"/>
<circle cx="265.7" cy="78.3" r="0.45" fill="#7a7a7a"/>
<circle cx="269.4" cy="85.7" r="0.45" fill="#7a7a7a"/>
<circle cx="282.8" cy="79.3" r="0.45" fill="#7a7a7a"/>
<circle cx="281.3" cy="81.9" r="0.45" fill="#7a7a7a"/>
<circle cx="272.6" cy="81.3" r="0.45" fill="#7a7a7a"/>
<circle cx="273.1" cy="77.5" r="0.45" fill="#7a7a7a"/>
<circle cx="429.4" cy="102.6" r="0.45" fill="#7a7a7a"/>
<circle cx="432.3" cy="94.7" r="0.45" fill="#7a7a7a"/>
<circle cx="435.4" cy="100.7" r="0.45" fill="#7a7a7a"/>
<circle cx="432.3" cy="119.8" r="0.45" fill="#7a7a7a"/>
<circle cx="431.8" cy="86.1" r="0.45" fill="#7a7a7a"/>
<circle cx="429.6" cy="94.2" r="0.45" fill="#7a7a7a"/>
<circle cx="434.6" cy="109.4" r="0.45" fill="#7a7a7a"/>
<circle cx="435.8" cy="120.4" r="0.45" fill="#7a7a7a"/>
<circle cx="437.3" cy="107.3" r="0.45" fill="#7a7a7a"/>
<circle cx="436.4" cy="107.6" r="0.45" fill="#7a7a7a"/>
<circle cx="431.7" cy="109.6" r="0.45" fill="#7a7a7a"/>
<circle cx="433.3" cy="98.2" r="0.45" fill="#7a7a7a"/>
<circle cx="438.2" cy="109.1" r="0.45" fill="#7a7a7a"/>
<circle cx="431.9" cy="99.7" r="0.45" fill="#7a7a7a"/>
<circle cx="439.0" cy="97.8" r="0.45" fill="#7a7a7a"/>
<circle cx="435.0" cy="107.5" r="0.45" fill="#7a7a7a"/>
<circle cx="434.4" cy="107.1" r="0.45" fill="#7a7a7a"/>
<circle cx="431.9" cy="95.5" r="0.45" fill="#7a7a7a"/>
<circle cx="432.7" cy="96.6" r="0.45" fill="#7a7a7a"/>
<circle cx="435.2" cy="117.8" r="0.45" fill="#7a7a7a"/>
<circle cx="430.9" cy="106.7" r="0.45" fill="#7a7a7a"/>
<circle cx="430.7" cy="92.9" r="0.45" fill="#7a7a7a"/>
<circle cx="432.5" cy="101.8" r="0.45" fill="#7a7a7a"/>
<circle cx="432.0" cy="71.5" r="0.45" fill="#7a7a7a"/>
<circle cx="436.6" cy="97.6" r="0.45" fill="#7a7a7a"/>
<circle cx="431.5" cy="108.2" r="0.45" fill="#7a7a7a"/>
<circle cx="431.6" cy="84.7" r="0.45" fill="#7a7a7a"/>
<circle cx="434.4" cy="105.3" r="0.45" fill="#7a7a7a"/>
<circle cx="431.0" cy="110.0" r="0.45" fill="#7a7a7a"/>
<circle cx="434.1" cy="88.0" r="0.45" fill="#7a7a7a"/>
<circle cx="437.6" cy="103.6" r="0.45" fill="#7a7a7a"/>
<circle cx="430.3" cy="105.7" r="0.45" fill="#7a7a7a"/>
<circle cx="433.5" cy="111.4" r="0.45" fill="#7a7a7a"/>
<circle cx="429.7" cy="112.2" r="0.45" fill="#7a7a7a"/>
<circle cx="435.5" cy="108.4" r="0.45" fill="#7a7a7a"/>
<circle cx="443.0" cy="126.9" r="0.45" fill="#7a7a7a"/>
<circle cx="443.3" cy="120.9" r="0.45" fill="#7a7a7a"/>
<circle cx="438.6" cy="125.9" r="0.45" fill="#7a7a7a"/>
<circle cx="444.2" cy="121.8" r="0.45" fill="#7a7a7a"/>
<circle cx="441.6" cy="123.9" r="0.45" fill="#7a7a7a"/>
<circle cx="433.5" cy="121.9" r="0.45" fill="#7a7a7a"/>
<circle cx="433.6" cy="121.5" r="0.45" fill="#7a7a7a"/>
<circle cx="444.4" cy="129.9" r="0.45" fill="#7a7a7a"/>
<circle cx="439.7" cy="122.4" r="0.45" fill="#7a7a7a"/>
<circle cx="440.9" cy="109.0" r="0.45" fill="#7a7a7a"/>
<circle cx="443.4" cy="120.2" r="0.45" fill="#7a7a7a"/>
<circle cx="441.4" cy="115.5" r="0.45" fill="#7a7a7a"/>
<circle cx="441.0" cy="120.7" r="0.45" fill="#7a7a7a"/>
<circle cx="445.0" cy="121.7" r="0.45" fill="#7a7a7a"/>
<circle cx="451.8" cy="118.2" r="0.45" fill="#7a7a7a"/>
<circle cx="440.3" cy="120.0" r="0.45" fill="#7a7a7a"/>
<circle cx="438.7" cy="127.9" r="0.45" fill="#7a7a7a"/>
<circle cx="443.1" cy="113.8" r="0.45" fill="#7a7a7a"/>
<circle cx="441.5" cy="126.1" r="0.45" fill="#7a7a7a"/>
<circle cx="436.8" cy="121.0" r="0.45" fill="#7a7a7a"/>
<circle cx="440.4" cy="132.1" r="0.45" fill="#7a7a7a"/>
<circle cx="442.4" cy="118.2" r="0.45" fill="#7a7a7a"/>
<circle cx="420.4" cy="155.7" r="0.45" fill="#7a7a7a"/>
<circle cx="420.7" cy="159.3" r="0.45" fill="#7a7a7a"/>
<circle cx="417.4" cy="136.7" r="0.45" fill="#7a7a7a"/>
<circle cx="421.4" cy="132.0" r="0.45" fill="#7a7a7a"/>
<circle cx="421.5" cy="144.7" r="0.45" fill="#7a7a7a"/>
<circle cx="420.1" cy="125.3" r="0.45" fill="#7a7a7a"/>
<circle cx="426.2" cy="151.8" r="0.45" fill="#7a7a7a"/>
<circle cx="420.0" cy="141.2" r="0.45" fill="#7a7a7a"/>
<circle cx="414.3" cy="147.9" r="0.45" fill="#7a7a7a"/>
<circle cx="418.1" cy="133.4" r="0.45" fill="#7a7a7a"/>
<circle cx="428.7" cy="126.9" r="0.45" fill="#7a7a7a"/>
<circle cx="422.2" cy="128.7" r="0.45" fill="#7a7a7a"/>
<circle cx="416.5" cy="127.8" r="0.45" fill="#7a7a7a"/>
<circle cx="423.0" cy="126.5" r="0.45" fill="#7a7a7a"/>
<circle cx="420.3" cy="145.1" r="0.45" fill="#7a7a7a"/>
<circle cx="421.7" cy="126.5" r="0.45" fill="#7a7a7a"/>
<circle cx="426.7" cy="139.5" r="0.45" fill="#7a7a7a"/>
<circle cx="426.4" cy="128.9" r="0.45" fill="#7a7a7a"/>
<circle cx="427.3" cy="126.1" r="0.45" fill="#7a7a7a"/>
<circle cx="416.8" cy="134.5" r="0.45" fill="#7a7a7a"/>
<circle cx="421.0" cy="140.8" r="0.45" fill="#7a7a7a"/>
<circle cx="420.4" cy="144.2" r="0.45" fill="#7a7a7a"/>
<circle cx="426.2" cy="132.5" r="0.45" fill="#7a7a7a"/>
<circle cx="418.0" cy="134.8" r="0.45" fill="#7a7a7a"/>
<circle cx="424.6" cy="145.9" r="0.45" fill="#7a7a7a"/>
<circle cx="421.1" cy="129.4" r="0.45" fill="#7a7a7a"/>
<circle cx="422.1" cy="147.2" r="0.45" fill="#7a7a7a"/>
<circle cx="420.0" cy="150.2" r="0.45" fill="#7a7a7a"/>
<circle cx="422.8" cy="141.0" r="0.45" fill="#7a7a7a"/>
<circle cx="420.2" cy="150.8" r="0.45" fill="#7a7a7a"/>
<circle cx="441.3" cy="125.6" r="0.45" fill="#7a7a7a"/>
<circle cx="443.6" cy="128.9" r="0.45" fill="#7a7a7a"/>
<circle cx="444.4" cy="130.6" r="0.45" fill="#7a7a7a"/>
<circle cx="439.2" cy="130.7" r="0.45" fill="#7a7a7a"/>
<circle cx="439.6" cy="127.6" r="0.45" fill="#7a7a7a"/>
<circle cx="441.2" cy="132.7" r="0.45" fill="#7a7a7a"/>
<circle cx="441.4" cy="129.9" r="0.45" fill="#7a7a7a"/>
<circle cx="439.4" cy="131.9" r="0.45" fill="#7a7a7a"/>
<circle cx="442.0" cy="133.0" r="0.45" fill="#7a7a7a"/>
<circle cx="442.2" cy="136.6" r="0.45" fill="#7a7a7a"/>
<circle cx="436.4" cy="130.0" r="0.45" fill="#7a7a7a"/>
<circle cx="442.8" cy="132.9" r="0.45" fill="#7a7a7a"/>
<circle cx="436.5" cy="126.4" r="0.45" fill="#7a7a7a"/>
<circle cx="441.0" cy="133.3" r="0.45" fill="#7a7a7a"/>
<circle cx="444.5" cy="125.5" r="0.45" fill="#7a7a7a"/>
<circle cx="455.4" cy="101.2" r="0.45" fill="#7a7a7a"/>
<circle cx="455.2" cy="90.0" r="0.45" fill="#7a7a7a"/>
<circle cx="453.3" cy="88.5" r="0.45" fill="#7a7a7a"/>
<circle cx="458.1" cy="93.9" r="0.45" fill="#7a7a7a"/>
<circle cx="454.0" cy="90.8" r="0.45" fill="#7a7a7a"/>
<circle cx="454.8" cy="90.6" r="0.45" fill="#7a7a7a"/>
<circle cx="452.6" cy="95.0" r="0.45" fill="#7a7a7a"/>
<circle cx="454.5" cy="97.5" r="0.45" fill="#7a7a7a"/>
<circle cx="455.5" cy="101.2" r="0.45" fill="#7a7a7a"/>
<circle cx="455.0" cy="96.5" r="0.45" fill="#7a7a7a"/>
<circle cx="471.4" cy="85.5" r="0.45" fill="#7a7a7a"/>
<circle cx="476.2" cy="85.9" r="0.45" fill="#7a7a7a"/>
<circle cx="462.2" cy="89.6" r="0.45" fill="#7a7a7a"/>
<circle cx="473.5" cy="85.9" r="0.45" fill="#7a7a7a"/>
<circle cx="475.0" cy="89.0" r="0.45" fill="#7a7a7a"/>
<circle cx="473.8" cy="84.7" r="0.45" fill="#7a7a7a"/>
<circle cx="471.1" cy="85.0" r="0.45" fill="#7a7a7a"/>
<circle cx="467.1" cy="85.9" r="0.45" fill="#7a7a7a"/>
<circle cx="465.9" cy="88.1" r="0.45" fill="#7a7a7a"/>
<circle cx="466.2" cy="88.3" r="0.45" fill="#7a7a7a"/>
<circle cx="477.4" cy="97.6" r="0.45" fill="#7a7a7a"/>
<circle cx="477.4" cy="105.4" r="0.45" fill="#7a7a7a"/>
<circle cx="479.4" cy="99.7" r="0.45" fill="#7a7a7a"/>
<circle cx="480.6" cy="104.7" r="0.45" fill="#7a7a7a"/>
<circle cx="479.6" cy="93.1" r="0.45" fill="#7a7a7a"/>
<circle cx="474.9" cy="108.6" r="0.45" fill="#7a7a7a"/>
<circle cx="476.6" cy="104.1" r="0.45" fill="#7a7a7a"/>
<circle cx="479.5" cy="92.5" r="0.45" fill="#7a7a7a"/>
<circle cx="478.0" cy="113.0" r="0.45" fill="#7a7a7a"/>
<circle cx="478.7" cy="101.8" r="0.45" fill="#7a7a7a"/>
<circle cx="478.2" cy="101.3" r="0.45" fill="#7a7a7a"/>
<circle cx="478.6" cy="109.1" r="0.45" fill="#7a7a7a"/>
<circle cx="462.1" cy="123.2" r="0.45" fill="#7a7a7a"/>
<circle cx="464.7" cy="123.6" r="0.45" fill="#7a7a7a"/>
<circle cx="467.4" cy="119.9" r="0.45" fill="#7a7a7a"/>
<circle cx="469.1" cy="123.8" r="0.45" fill="#7a7a7a"/>
<circle cx="457.7" cy="121.5" r="0.45" fill="#7a7a7a"/>
<circle cx="455.8" cy="121.5" r="0.45" fill="#7a7a7a"/>
<circle cx="464.9" cy="119.7" r="0.45" fill="#7a7a7a"/>
<circle cx="459.3" cy="120.3" r="0.45" fill="#7a7a7a"/>
<circle cx="459.7" cy="120.5" r="0.45" fill="#7a7a7a"/>
<circle cx="457.8" cy="123.2" r="0.45" fill="#7a7a7a"/>
<circle cx="462.1" cy="120.4" r="0.45" fill="#7a7a7a"/>
<circle cx="468.2" cy="120.9" r="0.45" fill="#7a7a7a"/>
<circle cx="430.7" cy="79.4" r="0.45" fill="#7a7a7a"/>
<circle cx="433.7" cy="81.8" r="0.45" fill="#7a7a7a"/>
<circle cx="419.5" cy="84.4" r="0.45" fill="#7a7a7a"/>
<circle cx="417.2" cy="79.9" r="0.45" fill="#7a7a7a"/>
<circle cx="426.7" cy="81.7" r="0.45" fill="#7a7a7a"/>
<circle cx="427.7" cy="83.5" r="0.45" fill="#7a7a7a"/>
<circle cx="426.8" cy="83.5" r="0.45" fill="#7a7a7a"/>
<circle cx="429.5" cy="83.1" r="0.45" fill="#7a7a7a"/>
<clipPath id="c1"><path d="M270.20 81.00 C271.73 80.88 273.20 81.13 274.50 81.80 C275.80 82.47 277.05 83.47 278.00 85.00 C278.95 86.53 279.72 88.83 280.20 91.00 C280.68 93.17 280.78 95.50 280.90 98.00 C281.02 100.50 281.05 103.50 280.90 106.00 C280.75 108.50 280.48 111.00 280.00 113.00 C279.52 115.00 278.92 116.73 278.00 118.00 C277.08 119.27 275.80 120.10 274.50 120.60 C273.20 121.10 271.45 121.27 270.20 121.00 C268.95 120.73 267.95 120.17 267.00 119.00 C266.05 117.83 265.28 115.83 264.50 114.00 C263.72 112.17 263.02 110.33 262.30 108.00 C261.58 105.67 260.53 102.50 260.20 100.00 C259.87 97.50 260.00 95.08 260.30 93.00 C260.60 90.92 261.17 89.25 262.00 87.50 C262.83 85.75 263.93 83.58 265.30 82.50 C266.67 81.42 268.67 81.12 270.20 81.00Z"/></clipPath>
<path d="M270.20 81.00 C271.73 80.88 273.20 81.13 274.50 81.80 C275.80 82.47 277.05 83.47 278.00 85.00 C278.95 86.53 279.72 88.83 280.20 91.00 C280.68 93.17 280.78 95.50 280.90 98.00 C281.02 100.50 281.05 103.50 280.90 106.00 C280.75 108.50 280.48 111.00 280.00 113.00 C279.52 115.00 278.92 116.73 278.00 118.00 C277.08 119.27 275.80 120.10 274.50 120.60 C273.20 121.10 271.45 121.27 270.20 121.00 C268.95 120.73 267.95 120.17 267.00 119.00 C266.05 117.83 265.28 115.83 264.50 114.00 C263.72 112.17 263.02 110.33 262.30 108.00 C261.58 105.67 260.53 102.50 260.20 100.00 C259.87 97.50 260.00 95.08 260.30 93.00 C260.60 90.92 261.17 89.25 262.00 87.50 C262.83 85.75 263.93 83.58 265.30 82.50 C266.67 81.42 268.67 81.12 270.20 81.00Z" fill="#0a28ff"/>
<g clip-path="url(#c1)">
<g filter="url(#blA)">
<ellipse cx="270.20" cy="102.50" rx="9.50" ry="16.00" fill="#2f6bff" />
<ellipse cx="270.00" cy="99.00" rx="6.80" ry="12.00" fill="#3fe6ff" />
</g><g filter="url(#blB)">
<ellipse cx="270.10" cy="97.50" rx="4.80" ry="7.60" fill="#8cff5a" />
<ellipse cx="270.00" cy="97.90" rx="3.20" ry="3.90" fill="#fff000" />
<ellipse cx="270.00" cy="98.00" rx="2.10" ry="2.20" fill="#ff0000" />
</g></g>
<clipPath id="c2"><path d="M316.30 91.80 C317.77 91.48 318.90 91.90 319.80 92.60 C320.70 93.30 321.40 94.60 321.70 96.00 C322.00 97.40 321.68 99.17 321.60 101.00 C321.52 102.83 321.55 105.17 321.20 107.00 C320.85 108.83 320.45 110.67 319.50 112.00 C318.55 113.33 317.08 114.33 315.50 115.00 C313.92 115.67 311.67 115.53 310.00 116.00 C308.33 116.47 306.92 116.93 305.50 117.80 C304.08 118.67 302.75 120.28 301.50 121.20 C300.25 122.12 299.08 123.13 298.00 123.30 C296.92 123.47 295.73 123.00 295.00 122.20 C294.27 121.40 293.52 119.78 293.60 118.50 C293.68 117.22 294.52 116.08 295.50 114.50 C296.48 112.92 298.17 110.67 299.50 109.00 C300.83 107.33 302.17 106.17 303.50 104.50 C304.83 102.83 306.25 100.67 307.50 99.00 C308.75 97.33 309.53 95.70 311.00 94.50 C312.47 93.30 314.83 92.12 316.30 91.80Z"/></clipPath>
<path d="M316.30 91.80 C317.77 91.48 318.90 91.90 319.80 92.60 C320.70 93.30 321.40 94.60 321.70 96.00 C322.00 97.40 321.68 99.17 321.60 101.00 C321.52 102.83 321.55 105.17 321.20 107.00 C320.85 108.83 320.45 110.67 319.50 112.00 C318.55 113.33 317.08 114.33 315.50 115.00 C313.92 115.67 311.67 115.53 310.00 116.00 C308.33 116.47 306.92 116.93 305.50 117.80 C304.08 118.67 302.75 120.28 301.50 121.20 C300.25 122.12 299.08 123.13 298.00 123.30 C296.92 123.47 295.73 123.00 295.00 122.20 C294.27 121.40 293.52 119.78 293.60 118.50 C293.68 117.22 294.52 116.08 295.50 114.50 C296.48 112.92 298.17 110.67 299.50 109.00 C300.83 107.33 302.17 106.17 303.50 104.50 C304.83 102.83 306.25 100.67 307.50 99.00 C308.75 97.33 309.53 95.70 311.00 94.50 C312.47 93.30 314.83 92.12 316.30 91.80Z" fill="#0a28ff"/>
<g clip-path="url(#c2)">
<g filter="url(#blA)">
<ellipse cx="305.00" cy="111.00" rx="9.00" ry="4.50" fill="#2f6bff" transform="rotate(-45 305.00 111.00)" />
<ellipse cx="313.00" cy="104.00" rx="6.50" ry="8.50" fill="#2f6bff" transform="rotate(30 313.00 104.00)" />
</g><g filter="url(#blB)">
<ellipse cx="312.20" cy="104.70" rx="4.90" ry="6.00" fill="#48ecff" transform="rotate(25 312.20 104.70)" />
<ellipse cx="312.20" cy="104.70" rx="3.50" ry="4.40" fill="#8cff5a" transform="rotate(25 312.20 104.70)" />
</g></g>
<ellipse cx="269.75" cy="100.05" rx="18.2" ry="25.0" fill="none" stroke="#0c10ea" stroke-width="2.3"/>
<ellipse cx="314.2" cy="101.1" rx="27.7" ry="18.8" fill="none" stroke="#d81414" stroke-width="2.1" transform="rotate(-51.3 314.2 101.1)"/>
<clipPath id="c3"><path d="M420.20 82.50 C421.62 82.40 423.23 82.62 424.50 83.20 C425.77 83.78 426.97 84.70 427.80 86.00 C428.63 87.30 429.10 88.67 429.50 91.00 C429.90 93.33 430.18 96.83 430.20 100.00 C430.22 103.17 430.07 107.00 429.60 110.00 C429.13 113.00 428.25 116.08 427.40 118.00 C426.55 119.92 425.62 120.77 424.50 121.50 C423.38 122.23 422.03 122.73 420.70 122.40 C419.37 122.07 417.78 121.40 416.50 119.50 C415.22 117.60 413.98 114.08 413.00 111.00 C412.02 107.92 410.92 104.00 410.60 101.00 C410.28 98.00 410.73 95.17 411.10 93.00 C411.47 90.83 411.98 89.53 412.80 88.00 C413.62 86.47 414.77 84.72 416.00 83.80 C417.23 82.88 418.78 82.60 420.20 82.50Z"/></clipPath>
<path d="M420.20 82.50 C421.62 82.40 423.23 82.62 424.50 83.20 C425.77 83.78 426.97 84.70 427.80 86.00 C428.63 87.30 429.10 88.67 429.50 91.00 C429.90 93.33 430.18 96.83 430.20 100.00 C430.22 103.17 430.07 107.00 429.60 110.00 C429.13 113.00 428.25 116.08 427.40 118.00 C426.55 119.92 425.62 120.77 424.50 121.50 C423.38 122.23 422.03 122.73 420.70 122.40 C419.37 122.07 417.78 121.40 416.50 119.50 C415.22 117.60 413.98 114.08 413.00 111.00 C412.02 107.92 410.92 104.00 410.60 101.00 C410.28 98.00 410.73 95.17 411.10 93.00 C411.47 90.83 411.98 89.53 412.80 88.00 C413.62 86.47 414.77 84.72 416.00 83.80 C417.23 82.88 418.78 82.60 420.20 82.50Z" fill="#0a28ff"/>
<g clip-path="url(#c3)">
<g filter="url(#blA)">
<ellipse cx="420.00" cy="103.00" rx="9.00" ry="15.50" fill="#2f6bff" />
<ellipse cx="419.40" cy="99.20" rx="6.40" ry="10.20" fill="#3fe6ff" />
</g><g filter="url(#blB)">
<ellipse cx="419.40" cy="98.70" rx="5.30" ry="7.60" fill="#8cff5a" />
<ellipse cx="419.20" cy="99.20" rx="3.20" ry="3.70" fill="#fff000" />
<ellipse cx="419.20" cy="99.40" rx="2.00" ry="2.10" fill="#ff0000" />
</g></g>
<clipPath id="c4"><path d="M465.80 89.80 C466.97 89.82 469.25 89.90 470.50 90.60 C471.75 91.30 472.77 92.43 473.30 94.00 C473.83 95.57 473.67 97.83 473.70 100.00 C473.73 102.17 473.78 104.67 473.50 107.00 C473.22 109.33 472.67 112.05 472.00 114.00 C471.33 115.95 470.93 117.57 469.50 118.70 C468.07 119.83 465.40 120.37 463.40 120.80 C461.40 121.23 459.23 120.68 457.50 121.30 C455.77 121.92 454.50 123.22 453.00 124.50 C451.50 125.78 450.00 128.33 448.50 129.00 C447.00 129.67 445.25 129.25 444.00 128.50 C442.75 127.75 441.58 126.08 441.00 124.50 C440.42 122.92 439.93 120.75 440.50 119.00 C441.07 117.25 442.52 116.15 444.40 114.00 C446.28 111.85 449.70 108.65 451.80 106.10 C453.90 103.55 455.52 100.88 457.00 98.70 C458.48 96.52 459.62 94.37 460.70 93.00 C461.78 91.63 462.65 91.03 463.50 90.50 C464.35 89.97 464.63 89.78 465.80 89.80Z"/></clipPath>
<path d="M465.80 89.80 C466.97 89.82 469.25 89.90 470.50 90.60 C471.75 91.30 472.77 92.43 473.30 94.00 C473.83 95.57 473.67 97.83 473.70 100.00 C473.73 102.17 473.78 104.67 473.50 107.00 C473.22 109.33 472.67 112.05 472.00 114.00 C471.33 115.95 470.93 117.57 469.50 118.70 C468.07 119.83 465.40 120.37 463.40 120.80 C461.40 121.23 459.23 120.68 457.50 121.30 C455.77 121.92 454.50 123.22 453.00 124.50 C451.50 125.78 450.00 128.33 448.50 129.00 C447.00 129.67 445.25 129.25 444.00 128.50 C442.75 127.75 441.58 126.08 441.00 124.50 C440.42 122.92 439.93 120.75 440.50 119.00 C441.07 117.25 442.52 116.15 444.40 114.00 C446.28 111.85 449.70 108.65 451.80 106.10 C453.90 103.55 455.52 100.88 457.00 98.70 C458.48 96.52 459.62 94.37 460.70 93.00 C461.78 91.63 462.65 91.03 463.50 90.50 C464.35 89.97 464.63 89.78 465.80 89.80Z" fill="#0a28ff"/>
<g clip-path="url(#c4)">
<g filter="url(#blA)">
<ellipse cx="452.00" cy="113.00" rx="12.00" ry="5.50" fill="#2f6bff" transform="rotate(-45 452.00 113.00)" />
<ellipse cx="462.00" cy="104.00" rx="9.00" ry="12.00" fill="#2f6bff" transform="rotate(30 462.00 104.00)" />
<ellipse cx="461.50" cy="106.00" rx="7.60" ry="11.20" fill="#3fe6ff" transform="rotate(30 461.50 106.00)" />
</g><g filter="url(#blB)">
<ellipse cx="461.50" cy="106.50" rx="5.20" ry="8.00" fill="#8cff5a" transform="rotate(30 461.50 106.50)" />
<ellipse cx="462.00" cy="106.20" rx="3.30" ry="5.00" fill="#fff000" transform="rotate(30 462.00 106.20)" />
<ellipse cx="462.20" cy="106.00" rx="1.60" ry="2.50" fill="#ff0000" transform="rotate(30 462.20 106.00)" />
</g></g>
<ellipse cx="420.1" cy="101.0" rx="18.1" ry="24.9" fill="none" stroke="#0c10ea" stroke-width="2.3"/>
<ellipse cx="463.55" cy="101.45" rx="27.4" ry="18.6" fill="none" stroke="#dc1edc" stroke-width="2.1" transform="rotate(-51.3 463.55 101.45)"/>
<text x="251.60" y="68.90" font-size="9.5" fill="#3c3c96" textLength="43.60" lengthAdjust="spacingAndGlyphs" >Naïve LSK</text>
<text x="398.30" y="70.70" font-size="9.5" fill="#3c3c96" textLength="43.80" lengthAdjust="spacingAndGlyphs" >Naïve LSK</text>
<text x="248.20" y="137.60" font-size="10" fill="#4a4aa0" textLength="10.90" lengthAdjust="spacingAndGlyphs" >78</text>
<text x="396.70" y="139.50" font-size="10" fill="#4a4aa0" textLength="9.90" lengthAdjust="spacingAndGlyphs" >51</text>
<text x="324.00" y="138.80" font-size="10" fill="#cc3333" textLength="10.40" lengthAdjust="spacingAndGlyphs" >22</text>
<text x="280.00" y="155.30" font-size="9.6" fill="#cc3333" textLength="57.00" lengthAdjust="spacingAndGlyphs" >LPS total LSK</text>
<text x="474.00" y="139.50" font-size="10" fill="#a8459e" textLength="10.60" lengthAdjust="spacingAndGlyphs" >48</text>
<text x="422.3" y="156.7" font-size="9.7" fill="#a8459e" textLength="66.6" lengthAdjust="spacingAndGlyphs">LPS CD86<tspan font-size="6" dy="-5.3">+</tspan><tspan dy="5.3"> LSK</tspan></text>
<text x="10.60" y="244.00" font-size="17.5" fill="#000" font-weight="bold" textLength="12.00" lengthAdjust="spacingAndGlyphs" stroke="#000" stroke-width="0.6">C</text>
<line x1="79.40" y1="266.00" x2="79.40" y2="408.90" stroke="#000" stroke-width="1.8" />
<line x1="74.50" y1="404.78" x2="281.20" y2="404.78" stroke="#000" stroke-width="1.8" />
<line x1="77.10" y1="402.54" x2="79.40" y2="402.54" stroke="#000" stroke-width="0.85" />
<line x1="77.10" y1="400.30" x2="79.40" y2="400.30" stroke="#000" stroke-width="0.85" />
<line x1="77.10" y1="398.05" x2="79.40" y2="398.05" stroke="#000" stroke-width="0.85" />
<line x1="77.10" y1="395.81" x2="79.40" y2="395.81" stroke="#000" stroke-width="0.85" />
<line x1="77.10" y1="393.57" x2="79.40" y2="393.57" stroke="#000" stroke-width="0.85" />
<line x1="77.10" y1="391.33" x2="79.40" y2="391.33" stroke="#000" stroke-width="0.85" />
<line x1="77.10" y1="389.09" x2="79.40" y2="389.09" stroke="#000" stroke-width="0.85" />
<line x1="77.10" y1="386.84" x2="79.40" y2="386.84" stroke="#000" stroke-width="0.85" />
<line x1="77.10" y1="384.60" x2="79.40" y2="384.60" stroke="#000" stroke-width="0.85" />
<line x1="77.10" y1="380.12" x2="79.40" y2="380.12" stroke="#000" stroke-width="0.85" />
<line x1="77.10" y1="377.88" x2="79.40" y2="377.88" stroke="#000" stroke-width="0.85" />
<line x1="77.10" y1="375.63" x2="79.40" y2="375.63" stroke="#000" stroke-width="0.85" />
<line x1="77.10" y1="373.39" x2="79.40" y2="373.39" stroke="#000" stroke-width="0.85" />
<line x1="77.10" y1="371.15" x2="79.40" y2="371.15" stroke="#000" stroke-width="0.85" />
<line x1="77.10" y1="368.91" x2="79.40" y2="368.91" stroke="#000" stroke-width="0.85" />
<line x1="77.10" y1="366.67" x2="79.40" y2="366.67" stroke="#000" stroke-width="0.85" />
<line x1="77.10" y1="364.42" x2="79.40" y2="364.42" stroke="#000" stroke-width="0.85" />
<line x1="77.10" y1="362.18" x2="79.40" y2="362.18" stroke="#000" stroke-width="0.85" />
<line x1="77.10" y1="357.70" x2="79.40" y2="357.70" stroke="#000" stroke-width="0.85" />
<line x1="77.10" y1="355.46" x2="79.40" y2="355.46" stroke="#000" stroke-width="0.85" />
<line x1="77.10" y1="353.21" x2="79.40" y2="353.21" stroke="#000" stroke-width="0.85" />
<line x1="77.10" y1="350.97" x2="79.40" y2="350.97" stroke="#000" stroke-width="0.85" />
<line x1="77.10" y1="348.73" x2="79.40" y2="348.73" stroke="#000" stroke-width="0.85" />
<line x1="77.10" y1="346.49" x2="79.40" y2="346.49" stroke="#000" stroke-width="0.85" />
<line x1="77.10" y1="344.25" x2="79.40" y2="344.25" stroke="#000" stroke-width="0.85" />
<line x1="77.10" y1="342.00" x2="79.40" y2="342.00" stroke="#000" stroke-width="0.85" />
<line x1="77.10" y1="339.76" x2="79.40" y2="339.76" stroke="#000" stroke-width="0.85" />
<line x1="77.10" y1="335.28" x2="79.40" y2="335.28" stroke="#000" stroke-width="0.85" />
<line x1="77.10" y1="333.04" x2="79.40" y2="333.04" stroke="#000" stroke-width="0.85" />
<line x1="77.10" y1="330.79" x2="79.40" y2="330.79" stroke="#000" stroke-width="0.85" />
<line x1="77.10" y1="328.55" x2="79.40" y2="328.55" stroke="#000" stroke-width="0.85" />
<line x1="77.10" y1="326.31" x2="79.40" y2="326.31" stroke="#000" stroke-width="0.85" />
<line x1="77.10" y1="324.07" x2="79.40" y2="324.07" stroke="#000" stroke-width="0.85" />
<line x1="77.10" y1="321.83" x2="79.40" y2="321.83" stroke="#000" stroke-width="0.85" />
<line x1="77.10" y1="319.58" x2="79.40" y2="319.58" stroke="#000" stroke-width="0.85" />
<line x1="77.10" y1="317.34" x2="79.40" y2="317.34" stroke="#000" stroke-width="0.85" />
<line x1="77.10" y1="312.86" x2="79.40" y2="312.86" stroke="#000" stroke-width="0.85" />
<line x1="77.10" y1="310.62" x2="79.40" y2="310.62" stroke="#000" stroke-width="0.85" />
<line x1="77.10" y1="308.37" x2="79.40" y2="308.37" stroke="#000" stroke-width="0.85" />
<line x1="77.10" y1="306.13" x2="79.40" y2="306.13" stroke="#000" stroke-width="0.85" />
<line x1="77.10" y1="303.89" x2="79.40" y2="303.89" stroke="#000" stroke-width="0.85" />
<line x1="77.10" y1="301.65" x2="79.40" y2="301.65" stroke="#000" stroke-width="0.85" />
<line x1="77.10" y1="299.41" x2="79.40" y2="299.41" stroke="#000" stroke-width="0.85" />
<line x1="77.10" y1="297.16" x2="79.40" y2="297.16" stroke="#000" stroke-width="0.85" />
<line x1="77.10" y1="294.92" x2="79.40" y2="294.92" stroke="#000" stroke-width="0.85" />
<line x1="77.10" y1="290.44" x2="79.40" y2="290.44" stroke="#000" stroke-width="0.85" />
<line x1="77.10" y1="288.20" x2="79.40" y2="288.20" stroke="#000" stroke-width="0.85" />
<line x1="77.10" y1="285.95" x2="79.40" y2="285.95" stroke="#000" stroke-width="0.85" />
<line x1="77.10" y1="283.71" x2="79.40" y2="283.71" stroke="#000" stroke-width="0.85" />
<line x1="77.10" y1="281.47" x2="79.40" y2="281.47" stroke="#000" stroke-width="0.85" />
<line x1="77.10" y1="279.23" x2="79.40" y2="279.23" stroke="#000" stroke-width="0.85" />
<line x1="77.10" y1="276.99" x2="79.40" y2="276.99" stroke="#000" stroke-width="0.85" />
<line x1="77.10" y1="274.74" x2="79.40" y2="274.74" stroke="#000" stroke-width="0.85" />
<line x1="77.10" y1="272.50" x2="79.40" y2="272.50" stroke="#000" stroke-width="0.85" />
<line x1="74.50" y1="404.78" x2="79.40" y2="404.78" stroke="#000" stroke-width="1.6" />
<text x="69.90" y="408.88" font-size="11.8" fill="#111" text-anchor="end" textLength="20.20" lengthAdjust="spacingAndGlyphs" >-0.8</text>
<line x1="74.50" y1="382.36" x2="79.40" y2="382.36" stroke="#000" stroke-width="1.6" />
<text x="69.90" y="386.46" font-size="11.8" fill="#111" text-anchor="end" textLength="20.20" lengthAdjust="spacingAndGlyphs" >-0.6</text>
<line x1="74.50" y1="359.94" x2="79.40" y2="359.94" stroke="#000" stroke-width="1.6" />
<text x="69.90" y="364.04" font-size="11.8" fill="#111" text-anchor="end" textLength="20.20" lengthAdjust="spacingAndGlyphs" >-0.4</text>
<line x1="74.50" y1="337.52" x2="79.40" y2="337.52" stroke="#000" stroke-width="1.6" />
<text x="69.90" y="341.62" font-size="11.8" fill="#111" text-anchor="end" textLength="20.20" lengthAdjust="spacingAndGlyphs" >-0.2</text>
<line x1="74.50" y1="315.10" x2="79.40" y2="315.10" stroke="#000" stroke-width="1.6" />
<text x="69.90" y="319.20" font-size="11.8" fill="#111" text-anchor="end" textLength="16.40" lengthAdjust="spacingAndGlyphs" >0.0</text>
<line x1="74.50" y1="292.68" x2="79.40" y2="292.68" stroke="#000" stroke-width="1.6" />
<text x="69.90" y="296.78" font-size="11.8" fill="#111" text-anchor="end" textLength="16.40" lengthAdjust="spacingAndGlyphs" >0.2</text>
<line x1="74.50" y1="270.26" x2="79.40" y2="270.26" stroke="#000" stroke-width="1.6" />
<text x="69.90" y="274.36" font-size="11.8" fill="#111" text-anchor="end" textLength="16.40" lengthAdjust="spacingAndGlyphs" >0.4</text>
<line x1="78.90" y1="404.78" x2="78.90" y2="408.80" stroke="#000" stroke-width="1.6" />
<text x="79.10" y="423.90" font-size="11" fill="#111" text-anchor="middle" textLength="6.40" lengthAdjust="spacingAndGlyphs" >0</text>
<line x1="127.84" y1="404.78" x2="127.84" y2="408.80" stroke="#000" stroke-width="1.6" />
<text x="128.04" y="423.90" font-size="11" fill="#111" text-anchor="middle" textLength="6.40" lengthAdjust="spacingAndGlyphs" >2</text>
<line x1="176.78" y1="404.78" x2="176.78" y2="408.80" stroke="#000" stroke-width="1.6" />
<text x="176.98" y="423.90" font-size="11" fill="#111" text-anchor="middle" textLength="6.40" lengthAdjust="spacingAndGlyphs" >4</text>
<line x1="225.72" y1="404.78" x2="225.72" y2="408.80" stroke="#000" stroke-width="1.6" />
<text x="225.92" y="423.90" font-size="11" fill="#111" text-anchor="middle" textLength="6.40" lengthAdjust="spacingAndGlyphs" >6</text>
<line x1="274.66" y1="404.78" x2="274.66" y2="408.80" stroke="#000" stroke-width="1.6" />
<text x="274.86" y="423.90" font-size="11" fill="#111" text-anchor="middle" textLength="6.40" lengthAdjust="spacingAndGlyphs" >8</text>
<text x="98.20" y="444.20" font-size="13.8" fill="#111" textLength="163.80" lengthAdjust="spacingAndGlyphs" >Months after BM transplantation</text>
<text x="41.1" y="368.3" font-size="14.3" fill="#111" transform="rotate(-90 41.1 368.3)" textLength="68.4" lengthAdjust="spacingAndGlyphs">Ratio (Log10)</text>
<path d="M78.90 314.90 L127.84 325.10 L176.78 317.70 L225.72 319.90 L274.66 320.40" fill="none" stroke="#b3123c" stroke-width="1.45" stroke-linejoin="round"/>
<line x1="127.84" y1="319.70" x2="127.84" y2="330.50" stroke="#b3123c" stroke-width="1.4" />
<line x1="123.54" y1="319.70" x2="132.14" y2="319.70" stroke="#b3123c" stroke-width="1.4" />
<line x1="123.54" y1="330.50" x2="132.14" y2="330.50" stroke="#b3123c" stroke-width="1.4" />
<line x1="176.78" y1="313.40" x2="176.78" y2="322.00" stroke="#b3123c" stroke-width="1.4" />
<line x1="172.48" y1="313.40" x2="181.08" y2="313.40" stroke="#b3123c" stroke-width="1.4" />
<line x1="172.48" y1="322.00" x2="181.08" y2="322.00" stroke="#b3123c" stroke-width="1.4" />
<path d="M78.90 314.70 L127.84 382.00 L176.78 379.10 L225.72 374.70 L274.66 388.90" fill="none" stroke="#2c4c8c" stroke-width="1.45" stroke-linejoin="round"/>
<line x1="127.84" y1="375.60" x2="127.84" y2="388.10" stroke="#2c4c8c" stroke-width="1.4" />
<line x1="123.54" y1="375.60" x2="132.14" y2="375.60" stroke="#2c4c8c" stroke-width="1.4" />
<line x1="123.54" y1="388.10" x2="132.14" y2="388.10" stroke="#2c4c8c" stroke-width="1.4" />
<line x1="176.78" y1="372.10" x2="176.78" y2="385.50" stroke="#2c4c8c" stroke-width="1.4" />
<line x1="172.48" y1="372.10" x2="181.08" y2="372.10" stroke="#2c4c8c" stroke-width="1.4" />
<line x1="172.48" y1="385.50" x2="181.08" y2="385.50" stroke="#2c4c8c" stroke-width="1.4" />
<line x1="225.72" y1="370.80" x2="225.72" y2="378.50" stroke="#2c4c8c" stroke-width="1.4" />
<line x1="221.42" y1="370.80" x2="230.02" y2="370.80" stroke="#2c4c8c" stroke-width="1.4" />
<line x1="221.42" y1="378.50" x2="230.02" y2="378.50" stroke="#2c4c8c" stroke-width="1.4" />
<line x1="274.66" y1="383.70" x2="274.66" y2="393.80" stroke="#2c4c8c" stroke-width="1.4" />
<line x1="270.36" y1="383.70" x2="278.96" y2="383.70" stroke="#2c4c8c" stroke-width="1.4" />
<line x1="270.36" y1="393.80" x2="278.96" y2="393.80" stroke="#2c4c8c" stroke-width="1.4" />
<circle cx="127.84" cy="325.10" r="3.3" fill="#fff" stroke="#b3123c" stroke-width="1.45"/>
<circle cx="176.78" cy="317.70" r="3.3" fill="#fff" stroke="#b3123c" stroke-width="1.45"/>
<circle cx="225.72" cy="319.90" r="3.3" fill="#fff" stroke="#b3123c" stroke-width="1.45"/>
<circle cx="274.66" cy="320.40" r="3.3" fill="#fff" stroke="#b3123c" stroke-width="1.45"/>
<circle cx="78.90" cy="314.70" r="3.7" fill="#2c4c8c"/>
<circle cx="127.84" cy="382.00" r="3.7" fill="#2c4c8c"/>
<circle cx="176.78" cy="379.10" r="3.7" fill="#2c4c8c"/>
<circle cx="225.72" cy="374.70" r="3.7" fill="#2c4c8c"/>
<circle cx="274.66" cy="388.90" r="3.7" fill="#2c4c8c"/>
<polygon points="129.00,364.10 129.72,366.01 131.76,366.10 130.16,367.38 130.70,369.35 129.00,368.22 127.30,369.35 127.84,367.38 126.24,366.10 128.28,366.01" fill="#111"/>
<polygon points="176.60,358.90 177.32,360.81 179.36,360.90 177.76,362.18 178.30,364.15 176.60,363.02 174.90,364.15 175.44,362.18 173.84,360.90 175.88,360.81" fill="#111"/>
<polygon points="225.80,358.30 226.52,360.21 228.56,360.30 226.96,361.58 227.50,363.55 225.80,362.42 224.10,363.55 224.64,361.58 223.04,360.30 225.08,360.21" fill="#111"/>
<polygon points="275.30,372.20 276.02,374.11 278.06,374.20 276.46,375.48 277.00,377.45 275.30,376.32 273.60,377.45 274.14,375.48 272.54,374.20 274.58,374.11" fill="#111"/>
<line x1="101.10" y1="269.40" x2="119.90" y2="269.40" stroke="#b3123c" stroke-width="1.45" />
<circle cx="110.7" cy="269.4" r="3.5" fill="#fff" stroke="#b3123c" stroke-width="1.45"/>
<line x1="101.10" y1="286.60" x2="119.90" y2="286.60" stroke="#2c4c8c" stroke-width="1.45" />
<circle cx="110.7" cy="286.6" r="3.9" fill="#2c4c8c"/>
<text x="124.8" y="274.9" font-size="10" fill="#111" textLength="116.8" lengthAdjust="spacingAndGlyphs">LPS CD86<tspan font-size="6" dy="-5.3">+</tspan><tspan dy="5.3"> LSK /Naïve LSK</tspan></text>
<text x="124.80" y="290.00" font-size="10" fill="#111" textLength="107.60" lengthAdjust="spacingAndGlyphs" >LPS total LSK /Naïve LSK</text>
<text x="342.90" y="243.40" font-size="17.5" fill="#000" font-weight="bold" textLength="13.20" lengthAdjust="spacingAndGlyphs" stroke="#000" stroke-width="0.6">D</text>
<line x1="396.90" y1="301.80" x2="396.90" y2="396.80" stroke="#000" stroke-width="1.85" />
<line x1="392.20" y1="395.90" x2="396.90" y2="395.90" stroke="#000" stroke-width="1.7" />
<text x="387.90" y="399.80" font-size="11" fill="#111" text-anchor="end" textLength="6.20" lengthAdjust="spacingAndGlyphs" >0</text>
<line x1="392.20" y1="351.05" x2="396.90" y2="351.05" stroke="#000" stroke-width="1.7" />
<text x="387.90" y="354.95" font-size="11" fill="#111" text-anchor="end" textLength="6.20" lengthAdjust="spacingAndGlyphs" >1</text>
<line x1="392.20" y1="306.20" x2="396.90" y2="306.20" stroke="#000" stroke-width="1.7" />
<text x="387.90" y="310.10" font-size="11" fill="#111" text-anchor="end" textLength="6.20" lengthAdjust="spacingAndGlyphs" >2</text>
<rect x="403.3" y="332.6" width="11.70" height="63.30" fill="#2c4c8a"/>
<rect x="421.2" y="379.6" width="11.50" height="16.30" fill="#b20a36"/>
<rect x="439.2" y="338.8" width="11.80" height="57.10" fill="#50246a"/>
<line x1="392.20" y1="395.90" x2="456.80" y2="395.90" stroke="#000" stroke-width="1.85" />
<line x1="445.00" y1="331.40" x2="445.00" y2="346.50" stroke="#111" stroke-width="1.2" />
<line x1="442.60" y1="331.40" x2="447.40" y2="331.40" stroke="#111" stroke-width="1.2" />
<circle cx="405.9" cy="328.8" r="2.45" fill="#fff" stroke="#111" stroke-width="1.15"/>
<circle cx="409.4" cy="334.9" r="2.45" fill="#fff" stroke="#111" stroke-width="1.15"/>
<circle cx="412.9" cy="334.9" r="2.45" fill="#fff" stroke="#111" stroke-width="1.15"/>
<circle cx="423.8" cy="377.4" r="2.45" fill="#fff" stroke="#111" stroke-width="1.15"/>
<circle cx="426.9" cy="382.3" r="2.45" fill="#fff" stroke="#111" stroke-width="1.15"/>
<circle cx="430.8" cy="380.9" r="2.45" fill="#fff" stroke="#111" stroke-width="1.15"/>
<circle cx="445.0" cy="325.3" r="2.45" fill="#fff" stroke="#111" stroke-width="1.15"/>
<circle cx="445.0" cy="340.2" r="2.45" fill="#fff" stroke="#111" stroke-width="1.15"/>
<circle cx="445.0" cy="349.8" r="2.45" fill="#fff" stroke="#111" stroke-width="1.15"/>
<path d="M407.6 300.0 L407.6 297.4 L444.3 297.4 L444.3 300.0" fill="none" stroke="#222" stroke-width="1.35"/>
<path d="M407.6 317.4 L407.6 314.8 L424.8 314.8 L424.8 317.4" fill="none" stroke="#222" stroke-width="1.35"/>
<path d="M427.5 317.4 L427.5 314.8 L444.5 314.8 L444.5 317.4" fill="none" stroke="#222" stroke-width="1.35"/>
<polygon points="415.80,304.60 416.49,306.45 418.46,306.53 416.92,307.76 417.45,309.67 415.80,308.58 414.15,309.67 414.68,307.76 413.14,306.53 415.11,306.45" fill="#111"/>
<polygon points="438.30,304.60 438.99,306.45 440.96,306.53 439.42,307.76 439.95,309.67 438.30,308.58 436.65,309.67 437.18,307.76 435.64,306.53 437.61,306.45" fill="#111"/>
<text x="415.50" y="289.90" font-size="12" fill="#111" textLength="21.80" lengthAdjust="spacingAndGlyphs" >N.S.</text>
<text x="372.4" y="390.9" font-size="13.5" fill="#111" transform="rotate(-90 372.4 390.9)" textLength="87.0" lengthAdjust="spacingAndGlyphs">CD34<tspan font-size="7" dy="-5">-</tspan><tspan dy="5"> LT-HSC (%)</tspan></text>
<rect x="360.6" y="407.8" width="9.0" height="8.90" fill="#2f5495"/>
<rect x="360.6" y="422.1" width="9.0" height="8.80" fill="#c0103c"/>
<rect x="360.6" y="435.8" width="9.0" height="8.80" fill="#50256d"/>
<text x="375.00" y="415.40" font-size="10" fill="#111" textLength="42.90" lengthAdjust="spacingAndGlyphs" >Naïve LSK</text>
<text x="375.00" y="430.30" font-size="10" fill="#111" textLength="52.80" lengthAdjust="spacingAndGlyphs" >LPS 24h LSK</text>
<text x="375.0" y="444.2" font-size="10" fill="#111" textLength="85.0" lengthAdjust="spacingAndGlyphs">LPS 24h CD86<tspan font-size="6" dy="-5.3">+</tspan><tspan dy="5.3"> LSK</tspan></text>
</svg>
</body></html>
